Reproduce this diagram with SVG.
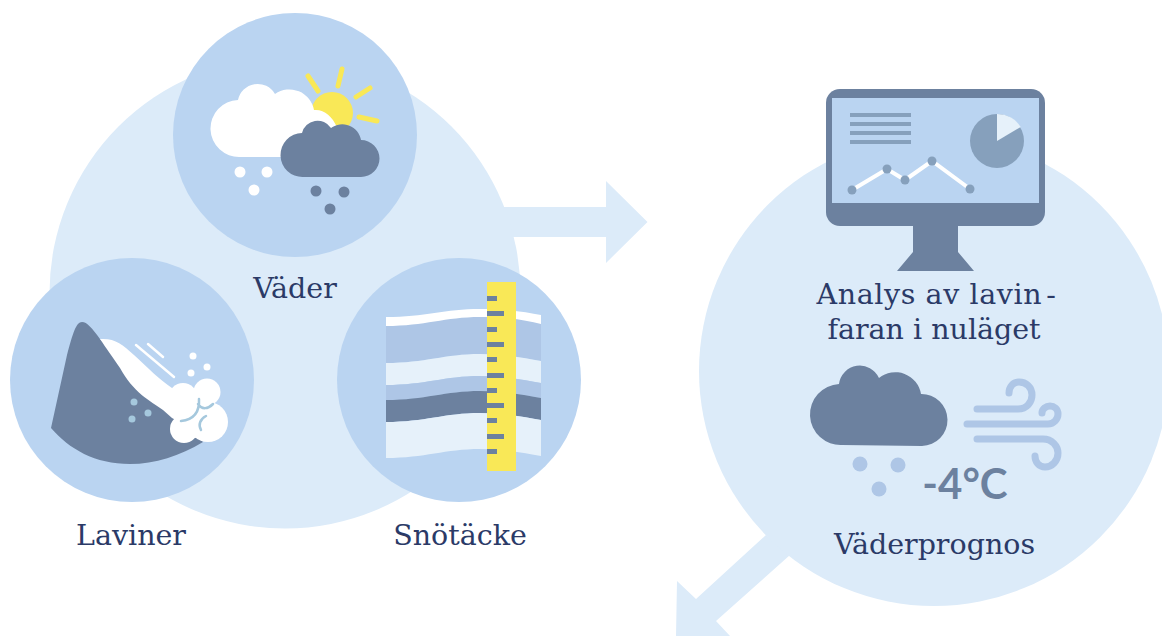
<svg xmlns="http://www.w3.org/2000/svg" width="1162" height="636" viewBox="0 0 1162 636">
<style>
.big{fill:#dcebf9}.mid{fill:#bad4f1}.dk{fill:#6c819f}.yl{fill:#f9e857}.wh{fill:#fff}.lt{fill:#aec6e6}.pale{fill:#e6f1fa}.st{fill:#86a0bc}
.lab{font-family:"DejaVu Serif","Liberation Serif",serif;font-size:28.500px;fill:#2b3a67;text-anchor:middle}
.ray{stroke:#f9e857;stroke-width:5;stroke-linecap:round;fill:none}
.wind{stroke:#aec6e6;stroke-width:7;stroke-linecap:round;fill:none}
.thin{stroke-width:2.500;stroke-linecap:round;fill:none}
</style>
<g id="connectors">
<path class="big" d="M500 207H606V181L647.500 222L606 263V237H500Z"/>
<path class="big" d="M766 535L696 599L677 581L676 636H730L716 621L790 555Z"/>
</g>
<g id="group-left"><circle class="big" cx="285" cy="293" r="235.500"/></g>
<g id="group-right"><circle class="big" cx="934" cy="371" r="235"/></g>
<g id="vader">
<circle class="mid" cx="295" cy="135" r="122"/>
<path class="ray" d="M308 76L318 91M342 69L338 86M370 88L356 97M359 117L377 121"/>
<circle class="yl" cx="332" cy="113" r="21"/>
<path class="wh" transform="translate(1 0)" d="M239 157A28.500 28.500 0 0 1 237 100A20 20 0 0 1 274 94A25 25 0 0 1 313 110C323 109 331 116 336 127L300 157Z"/>
<path class="dk" transform="translate(1 0)" d="M302 177A22 22 0 0 1 301 133A16 16 0 0 1 330 128A19 19 0 0 1 360 140A18.500 18.500 0 0 1 360 177Z"/>
<g class="wh"><circle cx="240" cy="172" r="5.500"/><circle cx="267" cy="172" r="5.500"/><circle cx="254" cy="190" r="5.500"/></g>
<g class="dk"><circle cx="316" cy="191" r="5.500"/><circle cx="344" cy="192" r="5.500"/><circle cx="330" cy="209" r="5.500"/></g>
<text class="lab" x="295" y="298">Väder</text>
</g>
<g id="laviner">
<circle class="mid" cx="132" cy="380" r="122"/>
<path class="dk" d="M51 428L67 355C73 333 76 322 82 322C87 322 92 328 100 339L170 410L203 442C180 456 155 464 130 464C95 464 69 449 51 428Z"/>
<path class="wh" d="M100 339C115 338 122 344 134 355C148 368 160 380 172 388L185 425L172 418L163 410C150 401 133 392 120 368C112 356 106 348 100 339Z"/>
<g class="wh"><circle cx="183" cy="397" r="14"/><circle cx="207" cy="392" r="13.500"/><circle cx="208" cy="422" r="20"/><circle cx="184" cy="429" r="14"/><circle cx="193" cy="410" r="14"/><circle cx="194" cy="425" r="13"/></g>
<path class="thin" d="M136 345L174 377M148 344L163 357" stroke="#fff"/>
<path class="thin" d="M181 421C190 420 200 416 199 399M198 404C202 410 208 409 213 404M201 430C198 425 200 419 206 416" stroke="#a5c8dd"/>
<g class="wh"><circle cx="193" cy="356" r="3.500"/><circle cx="207" cy="367" r="3.500"/><circle cx="191" cy="373" r="3.500"/></g>
<g fill="#a5c8dd"><circle cx="134" cy="402" r="3.500"/><circle cx="148" cy="413" r="3.500"/><circle cx="132" cy="419" r="3.500"/></g>
<text class="lab" x="131" y="545">Laviner</text>
</g>
<g id="snotacke">
<circle class="mid" cx="459" cy="380" r="122"/>
<path class="wh" d="M386 317C425 317 445 309 480 309C505 309 525 312 541 315V325L386 327Z"/>
<path class="lt" d="M386 326C425 326 445 317 480 317C505 317 525 320 541 324V361C525 358 505 354 480 354C445 354 425 363 386 363Z"/>
<path class="pale" d="M386 363C425 363 445 354 480 354C505 354 525 358 541 361V383C525 380 505 376 480 376C445 376 425 385 386 385Z"/>
<path class="lt" d="M386 385C425 385 445 376 480 376C505 376 525 380 541 383V398C525 395 505 391 480 391C445 391 425 400 386 400Z"/>
<path class="dk" d="M386 400C425 400 445 391 480 391C505 391 525 395 541 398V420C525 417 505 413 480 413C445 413 425 422 386 422Z"/>
<path class="pale" d="M386 422C425 422 445 413 480 413C505 413 525 417 541 420V456C525 453 505 449 480 449C445 449 425 458 386 458Z"/>
<rect class="yl" x="487" y="282" width="29" height="189"/>
<g class="dk"><rect x="487" y="296" width="10" height="5"/><rect x="487" y="311" width="17" height="5"/><rect x="487" y="327" width="10" height="5"/><rect x="487" y="342" width="17" height="5"/><rect x="487" y="357" width="10" height="5"/><rect x="487" y="373" width="17" height="5"/><rect x="487" y="388" width="10" height="5"/><rect x="487" y="403" width="17" height="5"/><rect x="487" y="418" width="10" height="5"/><rect x="487" y="434" width="17" height="5"/><rect x="487" y="449" width="10" height="5"/></g>
<text class="lab" x="460" y="545">Snötäcke</text>
</g>
<g id="analys">
<path class="dk" d="M913 226V252L897 271H974L958 252V226Z"/>
<rect class="dk" x="826" y="89" width="219" height="137" rx="14"/>
<rect class="mid" x="832" y="98" width="207" height="105"/>
<g class="st"><rect x="850" y="113" width="61" height="4"/><rect x="850" y="122" width="61" height="4"/><rect x="850" y="131" width="61" height="4"/><rect x="850" y="140" width="61" height="4"/></g>
<circle class="st" cx="997" cy="141" r="27"/>
<path class="pale" d="M997 141V114A27 27 0 0 1 1020.700 127Z"/>
<path d="M852 190L887 169L905 180L932 161L970 189" stroke="#fff" stroke-width="4" fill="none"/>
<g class="st"><circle cx="852" cy="190" r="4.500"/><circle cx="887" cy="169" r="4.500"/><circle cx="905" cy="180" r="4.500"/><circle cx="932" cy="161" r="4.500"/><circle cx="970" cy="189" r="4.500"/></g>
<text class="lab" x="936.500" y="304" letter-spacing="0.600">Analys av lavin<tspan dx="4">-</tspan></text>
<text class="lab" x="934" y="339">faran i nuläget</text>
</g>
<g id="prognos">
<path class="dk" d="M842 445A30.500 30.500 0 0 1 839 384A21 21 0 0 1 879 378A26 26 0 0 1 921 394A26 26 0 0 1 922 446Z"/>
<path class="wind" d="M977 409H1018C1027 409 1032 402 1032 395C1032 387 1026 382 1019 382C1013 382 1009 387 1009 393M967 424H1048C1054 424 1058 419 1058 414C1058 409 1054 406 1050 406C1046 406 1042 409 1042 413M977 439H1043C1052 439 1058 446 1058 453C1058 461 1052 467 1045 467C1039 467 1035 462 1035 456"/>
<g class="lt"><circle cx="860" cy="464" r="7.500"/><circle cx="898" cy="465" r="7.500"/><circle cx="879" cy="489" r="7.500"/></g>
<text x="965" y="499" font-family="Lato,'Open Sans',sans-serif" font-weight="700" font-size="42" fill="#6c819f" text-anchor="middle">-4°C</text>
<text class="lab" x="934.500" y="554">Väderprognos</text>
</g>
</svg>
